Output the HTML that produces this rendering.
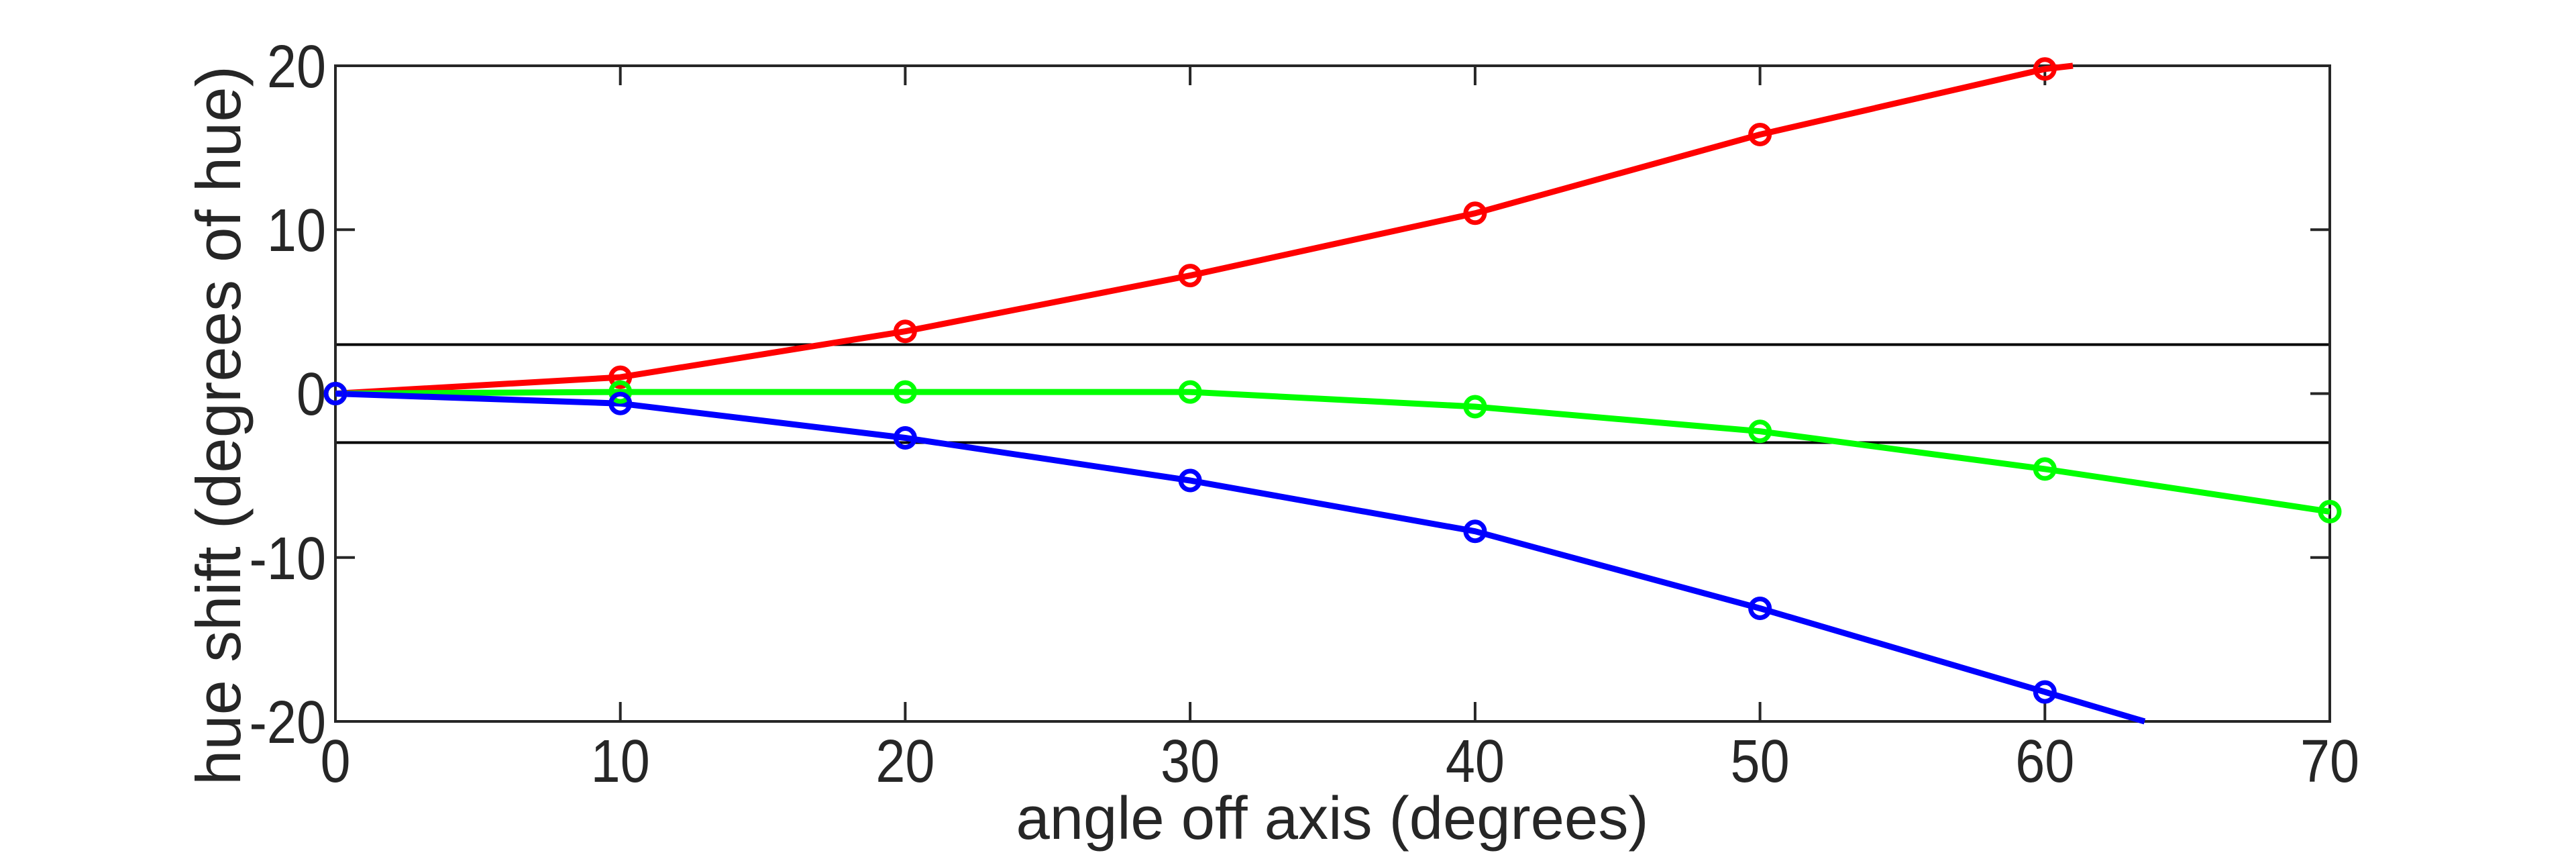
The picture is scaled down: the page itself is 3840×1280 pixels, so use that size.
<!DOCTYPE html>
<html><head><meta charset="utf-8"><style>html,body{margin:0;padding:0;background:#fff}svg{display:block}</style></head>
<body>
<svg width="3840" height="1280" viewBox="0 0 3840 1280" xmlns="http://www.w3.org/2000/svg" font-family="Liberation Sans, sans-serif" fill="#262626">
<rect width="3840" height="1280" fill="#fff"/>
<line x1="500" y1="513.5" x2="3473" y2="513.5" stroke="#000" stroke-width="4"/>
<line x1="500" y1="659.5" x2="3473" y2="659.5" stroke="#000" stroke-width="4"/>
<rect x="500" y="98" width="2973" height="977" fill="none" stroke="#262626" stroke-width="4"/>
<g stroke="#262626" stroke-width="4">
<line x1="924.7" y1="1075" x2="924.7" y2="1046"/><line x1="924.7" y1="98" x2="924.7" y2="127"/>
<line x1="1349.4" y1="1075" x2="1349.4" y2="1046"/><line x1="1349.4" y1="98" x2="1349.4" y2="127"/>
<line x1="1774.1" y1="1075" x2="1774.1" y2="1046"/><line x1="1774.1" y1="98" x2="1774.1" y2="127"/>
<line x1="2198.9" y1="1075" x2="2198.9" y2="1046"/><line x1="2198.9" y1="98" x2="2198.9" y2="127"/>
<line x1="2623.6" y1="1075" x2="2623.6" y2="1046"/><line x1="2623.6" y1="98" x2="2623.6" y2="127"/>
<line x1="3048.3" y1="1075" x2="3048.3" y2="1046"/><line x1="3048.3" y1="98" x2="3048.3" y2="127"/>
<line x1="500" y1="342.2" x2="529" y2="342.2"/><line x1="3473" y1="342.2" x2="3444" y2="342.2"/>
<line x1="500" y1="586.5" x2="529" y2="586.5"/><line x1="3473" y1="586.5" x2="3444" y2="586.5"/>
<line x1="500" y1="830.8" x2="529" y2="830.8"/><line x1="3473" y1="830.8" x2="3444" y2="830.8"/>
</g>
<g font-size="90" text-anchor="middle">
<text x="500" y="1165" transform="translate(50,0) scale(0.9,1)">0</text>
<text transform="translate(924.7,1165) scale(0.88,1)">10</text>
<text transform="translate(1349.4,1165) scale(0.88,1)">20</text>
<text transform="translate(1774.1,1165) scale(0.88,1)">30</text>
<text transform="translate(2198.9,1165) scale(0.88,1)">40</text>
<text transform="translate(2623.6,1165) scale(0.88,1)">50</text>
<text transform="translate(3048.3,1165) scale(0.88,1)">60</text>
<text transform="translate(3473,1165) scale(0.88,1)">70</text>
</g>
<g font-size="90" text-anchor="end">
<text transform="translate(486,130) scale(0.88,1)">20</text>
<text transform="translate(486,374) scale(0.88,1)">10</text>
<text transform="translate(486,618) scale(0.88,1)">0</text>
<text transform="translate(486,863) scale(0.88,1)">-10</text>
<text transform="translate(486,1107) scale(0.88,1)">-20</text>
</g>
<text x="1986" y="1250" font-size="90" text-anchor="middle" textLength="943" lengthAdjust="spacingAndGlyphs">angle off axis (degrees)</text>
<text transform="translate(358,634) rotate(-90)" font-size="94" text-anchor="middle" textLength="1072" lengthAdjust="spacingAndGlyphs">hue shift (degrees of hue)</text>
<g fill="none" stroke-width="9" stroke-linejoin="round">
<polyline stroke="#ff0000" points="500,586.5 924.7,562.1 1349.4,493.7 1774.1,410.6 2198.9,317.8 2623.6,200.5 3048.3,102.8 3090,98"/>
<polyline stroke="#00ff00" points="500,586.5 924.7,584.1 1349.4,584.1 1774.1,584.1 2198.9,606 2623.6,642.7 3048.3,698.9 3473,762.4"/>
<polyline stroke="#0000ff" points="500,586.5 924.7,601.2 1349.4,652.5 1774.1,716 2198.9,791.7 2623.6,906.5 3048.3,1031.1 3197,1075"/>
</g>
<g fill="none" stroke-width="7">
<g stroke="#ff0000">
<circle cx="500" cy="586.5" r="14"/><circle cx="924.7" cy="562.1" r="14"/><circle cx="1349.4" cy="493.7" r="14"/><circle cx="1774.1" cy="410.6" r="14"/><circle cx="2198.9" cy="317.8" r="14"/><circle cx="2623.6" cy="200.5" r="14"/><circle cx="3048.3" cy="102.8" r="14"/>
</g>
<g stroke="#00ff00">
<circle cx="500" cy="586.5" r="14"/><circle cx="924.7" cy="584.1" r="14"/><circle cx="1349.4" cy="584.1" r="14"/><circle cx="1774.1" cy="584.1" r="14"/><circle cx="2198.9" cy="606" r="14"/><circle cx="2623.6" cy="642.7" r="14"/><circle cx="3048.3" cy="698.9" r="14"/><circle cx="3473" cy="762.4" r="14"/>
</g>
<g stroke="#0000ff">
<circle cx="500" cy="586.5" r="14"/><circle cx="924.7" cy="601.2" r="14"/><circle cx="1349.4" cy="652.5" r="14"/><circle cx="1774.1" cy="716" r="14"/><circle cx="2198.9" cy="791.7" r="14"/><circle cx="2623.6" cy="906.5" r="14"/><circle cx="3048.3" cy="1031.1" r="14"/>
</g>
</g>
</svg>
</body></html>
